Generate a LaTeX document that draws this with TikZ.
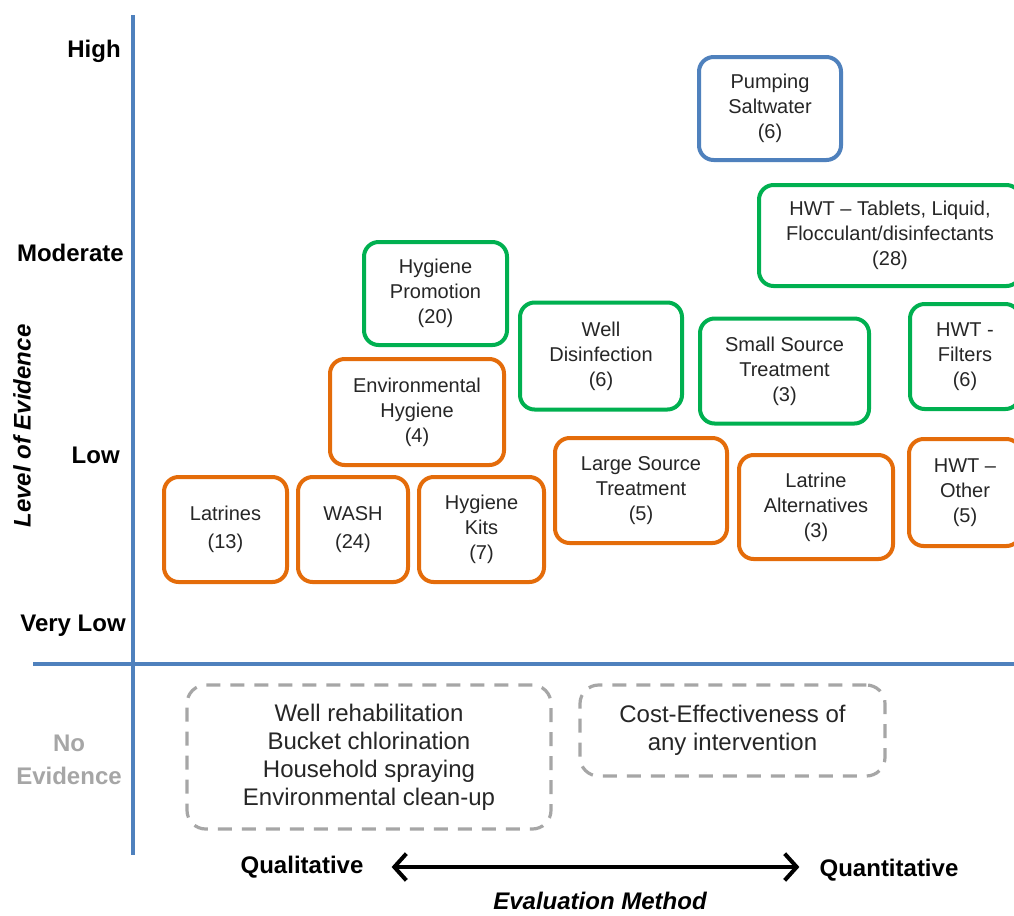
\documentclass[tikz,border=0pt]{standalone}
\usepackage{fontspec}
\setmainfont{Liberation Sans}
\usetikzlibrary{arrows.meta}
\definecolor{axblue}{HTML}{4F81BD}
\definecolor{bxorange}{HTML}{E46C0A}
\definecolor{bxgreen}{HTML}{00B050}
\definecolor{bxgray}{HTML}{A6A6A6}
\definecolor{txt}{HTML}{262626}
\tikzset{
  box/.style={draw, line width=3pt, rounded corners=11pt, inner sep=0pt, align=center, text=txt,
    font=\fontsize{15}{18.75}\selectfont},
  obox/.style={box, draw=bxorange},
  gbox/.style={box, draw=bxgreen},
  bbox/.style={box, draw=axblue},
  nobox/.style={draw=bxgray, line width=2.4pt, rounded corners=14pt, dash pattern=on 10.5pt off 7.5pt,
    inner sep=0pt, align=center, text=txt, font=\fontsize{18}{21}\selectfont},
  lvl/.style={font=\bfseries\fontsize{18}{21}\selectfont, inner sep=0pt, anchor=east},
  axis/.style={draw=axblue, line width=3pt},
  evarrow/.style={line width=3pt, {Straight Barb[length=9pt,width=20pt]}-{Straight Barb[length=9pt,width=20pt]}}
}
\begin{document}
\begin{tikzpicture}[x=0.75pt,y=-0.75pt]
\clip (0,0) rectangle (1014,915);
\fill[white] (0,0) rectangle (1014,915);
% axes
\coordinate (vt) at (133,15);
\coordinate (vb) at (133,855);
\coordinate (hl) at (33,664);
\coordinate (hr) at (1020,664);
\draw[axis] (vt) -- (vb);
\draw[axis] (hl) -- (hr);
% level labels
\node[lvl] (high) at (121,51) {High};
\node[lvl] (mod) at (124,253) {Moderate};
\node[lvl] (low) at (120,455) {Low};
\node[lvl] (vlow) at (126,626) {Very Low};
\node[font=\bfseries\itshape\fontsize{18}{21}\selectfont, rotate=90, inner sep=0pt] (loe) at (22,426) {Level of Evidence};
\node[font=\bfseries\fontsize{18}{24.75}\selectfont, text=bxgray, align=center, inner sep=0pt] (noev) at (69,760) {No\\Evidence};
% boxes
\node[bbox, minimum width=142*0.75pt, minimum height=103*0.75pt] (pump) at (770,108.5) {Pumping\\Saltwater\\(6)};
\node[gbox, minimum width=262*0.75pt, minimum height=101*0.75pt] (hwtT) at (890,235.5) {HWT – Tablets, Liquid,\\Flocculant/disinfectants\\(28)};
\node[gbox, minimum width=143*0.75pt, minimum height=103*0.75pt] (hygP) at (435.5,293.5) {Hygiene\\Promotion\\(20)};
\node[gbox, minimum width=162*0.75pt, minimum height=107*0.75pt] (wellD) at (601,356) {Well\\Disinfection\\(6)};
\node[gbox, minimum width=169*0.75pt, minimum height=105*0.75pt] (smallS) at (784.5,371) {Small Source\\Treatment\\(3)};
\node[gbox, minimum width=110*0.75pt, minimum height=105*0.75pt] (hwtF) at (965,356.5) {HWT -\\Filters\\(6)};
\node[obox, minimum width=174*0.75pt, minimum height=106*0.75pt] (envH) at (417,412) {Environmental\\Hygiene\\(4)};
\node[obox, minimum width=172*0.75pt, minimum height=105*0.75pt] (largeS) at (641,490.5) {Large Source\\Treatment\\(5)};
\node[obox, minimum width=154*0.75pt, minimum height=104*0.75pt] (latA) at (816,507) {Latrine\\Alternatives\\(3)};
\node[obox, minimum width=112*0.75pt, minimum height=107*0.75pt] (hwtO) at (965,492.5) {HWT –\\Other\\(5)};
\node[obox, minimum width=123*0.75pt, minimum height=105*0.75pt, font=\fontsize{15}{21}\selectfont] (latr) at (225.5,529.5) {Latrines\\(13)};
\node[obox, minimum width=110*0.75pt, minimum height=105*0.75pt, font=\fontsize{15}{21}\selectfont] (wash) at (353,529.5) {WASH\\(24)};
\node[obox, minimum width=125*0.75pt, minimum height=105*0.75pt] (kits) at (481.5,529.5) {Hygiene\\Kits\\(7)};
% no evidence boxes
\node[nobox, minimum width=364*0.75pt, minimum height=144*0.75pt] (noL) at (369,757) {Well rehabilitation\\Bucket chlorination\\Household spraying\\Environmental clean-up};
\node[nobox, minimum width=305*0.75pt, minimum height=91*0.75pt] (noR) at (732.5,730.5) {Cost-Effectiveness of\\any intervention};
% evaluation method
\node[font=\bfseries\fontsize{18}{21}\selectfont, inner sep=0pt] (ql) at (302,867) {Qualitative};
\node[font=\bfseries\fontsize{18}{21}\selectfont, inner sep=0pt] (qn) at (889,870) {Quantitative};
\draw[evarrow, shorten <=21pt, shorten >=15pt] (ql.east) -- (ql.east -| qn.west);
\node[font=\bfseries\itshape\fontsize{18}{21}\selectfont, inner sep=0pt] (evm) at (600,901) {Evaluation Method};
\end{tikzpicture}
\end{document}
